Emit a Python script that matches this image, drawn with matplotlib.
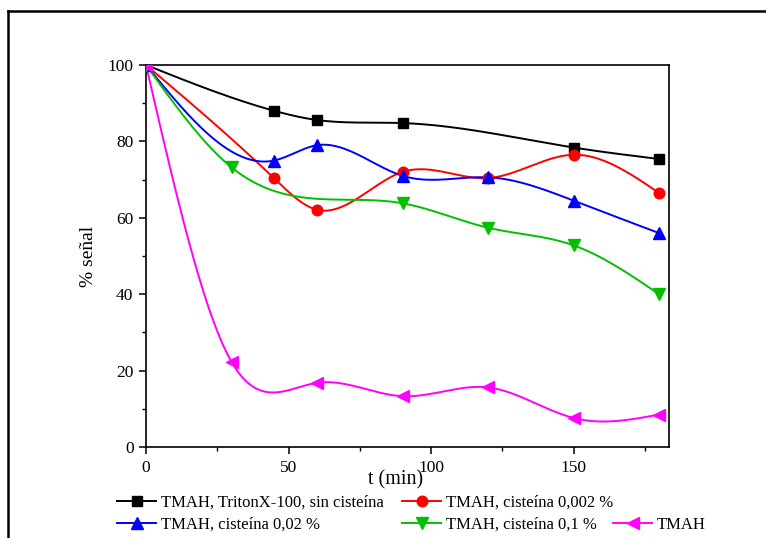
import numpy as np
import matplotlib
matplotlib.use("Agg")
import matplotlib.pyplot as plt
from matplotlib.lines import Line2D

plt.rcParams['font.family'] = ['Liberation Serif', 'DejaVu Serif']

# Signal (%) versus time (min) for each digestion medium
t_triton = [0, 45, 60, 90, 150, 180]
s_triton = [100, 88.0, 85.6, 84.8, 78.4, 75.4]

t_cis0002 = [0, 45, 60, 90, 120, 150, 180]
s_cis0002 = [100, 70.3, 62.1, 72.0, 70.4, 76.5, 66.5]

t_cis002 = [0, 45, 60, 90, 120, 150, 180]
s_cis002 = [100, 75.0, 79.0, 71.0, 70.6, 64.5, 56.0]

t_cis01 = [0, 30, 90, 120, 150, 180]
s_cis01 = [100, 73.2, 63.8, 57.4, 52.8, 40.0]

t_tmah = [0, 30, 60, 90, 120, 150, 180]
s_tmah = [100, 22.3, 16.8, 13.3, 15.6, 7.6, 8.5]

labels = ["TMAH, TritonX-100, sin cisteína",
          "TMAH, cisteína 0,002 %",
          "TMAH, cisteína 0,02 %",
          "TMAH, cisteína 0,1 %",
          "TMAH"]

x_ticks = [0, 50, 100, 150]
y_ticks = [0, 20, 40, 60, 80, 100]


def natural_spline(x, y, num=400):
    x = np.asarray(x, float)
    y = np.asarray(y, float)
    n = len(x)
    h = np.diff(x)
    A = np.zeros((n, n))
    b = np.zeros(n)
    A[0, 0] = 1
    A[-1, -1] = 1
    for i in range(1, n - 1):
        A[i, i - 1] = h[i - 1]
        A[i, i] = 2 * (h[i - 1] + h[i])
        A[i, i + 1] = h[i]
        b[i] = 6 * ((y[i + 1] - y[i]) / h[i] - (y[i] - y[i - 1]) / h[i - 1])
    M = np.linalg.solve(A, b)
    xs = np.linspace(x[0], x[-1], num)
    idx = np.clip(np.searchsorted(x, xs) - 1, 0, n - 2)
    x0, x1 = x[idx], x[idx + 1]
    hh = x1 - x0
    a = (x1 - xs) / hh
    bb = (xs - x0) / hh
    ys = (a * y[idx] + bb * y[idx + 1]
          + ((a ** 3 - a) * M[idx] + (bb ** 3 - bb) * M[idx + 1]) * hh ** 2 / 6)
    return xs, ys


fig = plt.figure(figsize=(7.66, 5.38), dpi=100)
ax = fig.add_axes([146 / 766, 1 - 447 / 538, (669 - 146) / 766, (447 - 65) / 538])

series = [
    (t_triton, s_triton, 'black', 's', 6.8),
    (t_cis0002, s_cis0002, '#ff0000', 'o', 7.6),
    (t_cis002, s_cis002, '#0000ff', '^', 8.0),
    (t_cis01, s_cis01, '#00c000', 'v', 8.0),
    (t_tmah, s_tmah, '#ff00ff', '<', 8.0),
]

handles = []
for (tx, sy, col, mk, ms), lab in zip(series, labels):
    xs, ys = natural_spline(tx, sy)
    ax.plot(xs, ys, color=col, lw=1.4, zorder=2)
    ax.plot(tx, sy, ls='none', marker=mk, ms=ms, color=col, zorder=3)
    handles.append(Line2D([], [], color=col, lw=1.4, marker=mk, ms=ms, label=lab))

ax.set_xlim(0, 183.5)
ax.set_ylim(0, 100)
ax.set_xticks(x_ticks)
ax.set_xticks([25, 75, 125, 175], minor=True)
ax.set_yticks(y_ticks)
ax.set_yticks([10, 30, 50, 70, 90], minor=True)
ax.tick_params(which='major', direction='out', length=5, width=1.1, labelsize=12.5, pad=4)
ax.tick_params(which='minor', direction='out', length=3, width=1.0)
for sp in ax.spines.values():
    sp.set_linewidth(1.2)

ax.set_xlabel("t (min)", fontsize=14.5)
ax.xaxis.set_label_coords((396 - 146) / (669 - 146), -0.062)
ax.set_ylabel("% señal", fontsize=14)
ax.yaxis.set_label_coords(-(146 - 97) / (669 - 146), 0.5)

legend_kw = dict(frameon=False, fontsize=12.0, handlelength=2.35, handletextpad=0.3,
                 labelspacing=0.33, borderpad=0, borderaxespad=0, loc='upper left')
fig.legend([handles[0], handles[2]], [labels[0], labels[2]],
           bbox_to_anchor=(117 / 766, 1 - 495 / 538), **legend_kw)
fig.legend([handles[1], handles[3]], [labels[1], labels[3]],
           bbox_to_anchor=(402 / 766, 1 - 495 / 538), **legend_kw)
fig.legend([handles[4]], [labels[4]],
           bbox_to_anchor=(613 / 766, 1 - 517 / 538), **legend_kw)

# outer frame edges
fig.add_artist(Line2D([8 / 766, 8 / 766], [0, 1 - 11 / 538], color='black', lw=1.8,
                      transform=fig.transFigure))
fig.add_artist(Line2D([8 / 766, 1], [1 - 11 / 538, 1 - 11 / 538], color='black', lw=1.8,
                      transform=fig.transFigure))

fig.savefig("out.png", dpi=100)
